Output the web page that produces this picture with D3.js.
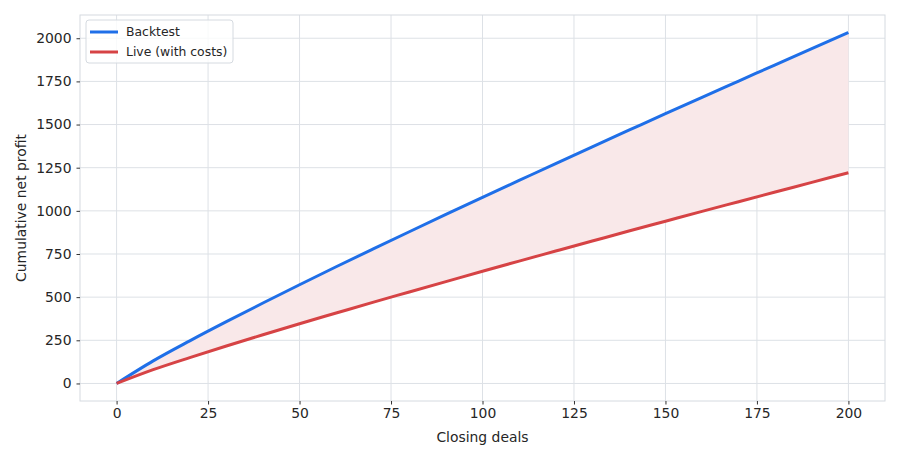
<!DOCTYPE html>
<html>
<head>
<meta charset="utf-8">
<script src="https://cdn.jsdelivr.net/npm/d3@7"></script>
<style>
body {
  margin: 0;
  background-color: white;
}
.axis text {
  font-family: "DejaVu Sans", sans-serif;
  font-size: 13.9px;
  fill: #262626;
}
.axis line {
  stroke: #333;
}
.axis path {
  display: none;
}
</style>
</head>
<body>
<script>

const deals = [0, 10, 20, 30, 40, 50, 60, 70, 80, 90, 100, 110, 120, 130, 140, 150, 160, 170, 180, 190, 200];
const backtest = [0, 131, 247, 358, 466, 572, 676, 778, 879, 979, 1078, 1176, 1274, 1371, 1467, 1563, 1658, 1752, 1846, 1940, 2033];
const live = [0, 80, 150, 217, 282, 346, 408, 470, 530, 590, 650, 709, 767, 825, 883, 940, 997, 1053, 1109, 1165, 1221];
const xTicks = [0, 25, 50, 75, 100, 125, 150, 175, 200];
const yTicks = [0, 250, 500, 750, 1000, 1250, 1500, 1750, 2000];
const seriesNames = ["Backtest", "Live (with costs)"];

const W = 900, H = 459;
const margin = {top: 15, right: 15, bottom: 58, left: 80};
const width = W - margin.left - margin.right;
const height = H - margin.top - margin.bottom;

const svg = d3.select("body").append("svg")
  .attr("width", W)
  .attr("height", H);

const g = svg.append("g").attr("transform", `translate(${margin.left}, ${margin.top})`);

const rows = deals.map((d, i) => ({x: d, b: backtest[i], l: live[i]}));

// matplotlib-like 5% margins
const xr = d3.extent(deals);
const xpad = (xr[1] - xr[0]) * 0.05;
const allY = backtest.concat(live);
const yr = d3.extent(allY);
const ypad = (yr[1] - yr[0]) * 0.05;

const xScale = d3.scaleLinear().domain([xr[0] - xpad, xr[1] + xpad]).range([0, width]);
const yScale = d3.scaleLinear().domain([yr[0] - ypad, yr[1] + ypad]).range([height, 0]);

// grid
g.append("g").selectAll("line").data(xTicks).join("line")
  .attr("x1", d => xScale(d)).attr("x2", d => xScale(d))
  .attr("y1", 0).attr("y2", height)
  .attr("stroke", "#dde1e6").attr("stroke-width", 1);
g.append("g").selectAll("line").data(yTicks).join("line")
  .attr("y1", d => yScale(d)).attr("y2", d => yScale(d))
  .attr("x1", 0).attr("x2", width)
  .attr("stroke", "#dde1e6").attr("stroke-width", 1);

// shaded gap between the two curves
const area = d3.area()
  .curve(d3.curveMonotoneX)
  .x(d => xScale(d.x))
  .y0(d => yScale(d.l))
  .y1(d => yScale(d.b));
g.append("path").datum(rows)
  .attr("fill", "#f9e8e9")
  .attr("d", area);

const lineB = d3.line().curve(d3.curveMonotoneX).x(d => xScale(d.x)).y(d => yScale(d.b));
const lineL = d3.line().curve(d3.curveMonotoneX).x(d => xScale(d.x)).y(d => yScale(d.l));

g.append("path").datum(rows)
  .attr("fill", "none")
  .attr("stroke", "#1f6fe8")
  .attr("stroke-width", 3)
  .attr("d", lineB);

g.append("path").datum(rows)
  .attr("fill", "none")
  .attr("stroke", "#d64345")
  .attr("stroke-width", 3)
  .attr("d", lineL);

// frame
g.append("rect")
  .attr("width", width).attr("height", height)
  .attr("fill", "none")
  .attr("stroke", "#d5dae0")
  .attr("stroke-width", 1);

// axes
g.append("g")
  .attr("class", "axis")
  .attr("transform", `translate(0, ${height})`)
  .call(d3.axisBottom(xScale).tickValues(xTicks).tickFormat(d3.format("d")).tickSize(3.5).tickPadding(4));

g.append("g")
  .attr("class", "axis")
  .call(d3.axisLeft(yScale).tickValues(yTicks).tickFormat(d3.format("d")).tickSize(3.5).tickPadding(5));

// axis labels
svg.append("text")
  .attr("x", margin.left + width / 2)
  .attr("y", 442)
  .attr("text-anchor", "middle")
  .attr("font-family", "DejaVu Sans, sans-serif")
  .attr("font-size", "13.9px")
  .attr("fill", "#262626")
  .text("Closing deals");

svg.append("text")
  .attr("transform", `translate(26, ${margin.top + height / 2}) rotate(-90)`)
  .attr("text-anchor", "middle")
  .attr("font-family", "DejaVu Sans, sans-serif")
  .attr("font-size", "13.9px")
  .attr("fill", "#262626")
  .text("Cumulative net profit");

// legend
const legend = g.append("g").attr("transform", "translate(6, 5)");
legend.append("rect")
  .attr("width", 147).attr("height", 43)
  .attr("rx", 3)
  .attr("fill", "white").attr("fill-opacity", 0.8)
  .attr("stroke", "#d5dae0");
const colors = ["#1f6fe8", "#d64345"];
seriesNames.forEach((name, i) => {
  const y = 12 + i * 20;
  legend.append("line")
    .attr("x1", 4).attr("x2", 32)
    .attr("y1", y).attr("y2", y)
    .attr("stroke", colors[i]).attr("stroke-width", 3);
  legend.append("text")
    .attr("x", 40).attr("y", y + 4)
    .attr("font-family", "DejaVu Sans, sans-serif")
    .attr("font-size", "12.4px")
    .attr("fill", "#262626")
    .text(name);
});

</script>
</body>
</html>
